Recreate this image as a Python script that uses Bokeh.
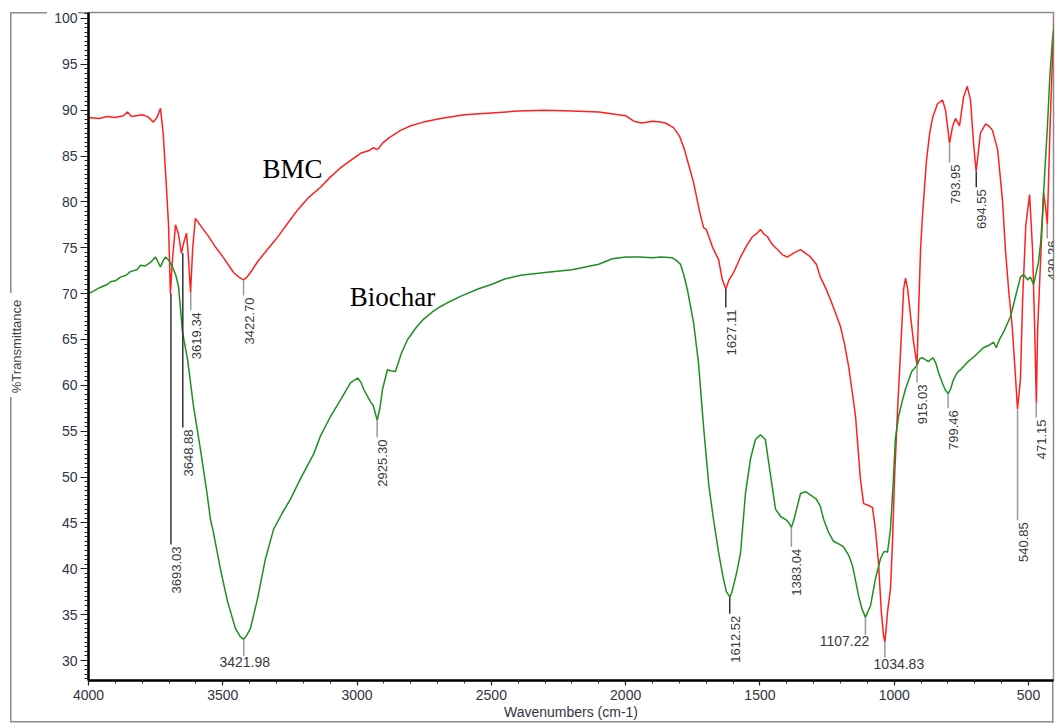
from math import pi
from bokeh.plotting import figure
from bokeh.models import Range1d, FixedTicker, ColumnDataSource
from bokeh.core.properties import value
from bokeh.embed import file_html
from bokeh.resources import INLINE

# ---------------- data ----------------
bmc_wn = [4000, 3960, 3930, 3900, 3870, 3855, 3840, 3800, 3780, 3758, 3745, 3732, 3722, 3712, 3702, 3695,
          3688, 3676, 3665, 3654, 3646, 3635, 3628, 3620, 3612, 3602, 3580, 3557, 3530, 3497, 3460, 3440,
          3423, 3410, 3397, 3370, 3334, 3300, 3285, 3250, 3222, 3180, 3136, 3100, 3062, 3020, 2987, 2955,
          2940, 2924, 2905, 2880, 2838, 2800, 2753, 2689, 2600, 2500, 2400, 2300, 2200, 2100, 2000, 1970,
          1940, 1900, 1870, 1852, 1822, 1800, 1781, 1765, 1747, 1725, 1710, 1700, 1690, 1677, 1654, 1640,
          1627, 1615, 1598, 1572, 1550, 1528, 1510, 1498, 1485, 1472, 1455, 1435, 1415, 1397, 1370, 1349,
          1330, 1312, 1290, 1275, 1255, 1237, 1220, 1200, 1185, 1170, 1155, 1144, 1126, 1114, 1095, 1081,
          1070, 1059, 1048, 1040, 1035, 1030, 1025, 1014, 1007, 999, 988, 975, 965, 958, 950, 939, 928,
          915, 910, 902, 895, 880, 868, 857, 839, 820, 809, 794, 783, 772, 757, 742, 728, 716, 705, 695,
          679, 660, 645, 634, 615, 597, 586, 574, 560, 548, 541, 530, 522, 510, 496, 485, 477, 471, 466,
          455, 444, 437, 430, 420, 410, 403]
bmc_t = [89.2, 89.1, 89.3, 89.2, 89.4, 89.8, 89.3, 89.5, 89.3, 88.7, 89.2, 90.2, 87.5, 82.7, 77.5, 70.0,
         73.5, 77.5, 76.5, 74.4, 75.5, 76.6, 74.0, 70.1, 75.0, 78.2, 77.3, 76.4, 75.2, 73.9, 72.3, 71.8,
         71.5, 71.8, 72.3, 73.5, 74.8, 76.0, 76.6, 78.0, 79.1, 80.5, 81.6, 82.7, 83.7, 84.6, 85.3, 85.6,
         85.9, 85.7, 86.4, 87.0, 87.8, 88.3, 88.7, 89.1, 89.5, 89.7, 89.9, 90.0, 89.9, 89.8, 89.4, 88.8,
         88.6, 88.8, 88.7, 88.6, 88.1, 87.2, 85.7, 84.0, 82.1, 79.0, 77.2, 77.0, 76.2, 75.1, 73.7, 71.5,
         70.5, 71.5, 72.3, 74.0, 75.2, 76.2, 76.6, 77.0, 76.5, 76.2, 75.4, 74.8, 74.2, 74.0, 74.5, 74.8,
         74.4, 74.0, 73.2, 71.8, 70.6, 69.3, 68.0, 66.4, 64.5, 62.1, 59.0, 56.6, 49.8, 47.1, 46.9, 46.7,
         44.3, 40.8, 35.3, 32.8, 32.0, 33.5, 35.3, 37.8, 42.5, 49.8, 57.1, 64.5, 70.5, 71.7, 70.5, 67.5, 64.7,
         62.2, 67.5, 74.8, 78.4, 84.5, 87.5, 89.2, 90.7, 91.1, 90.0, 86.4, 88.2, 89.1, 88.3, 91.4, 92.6, 91.1,
         86.5, 83.3, 87.5, 88.5, 88.2, 87.8, 85.7, 80.2, 74.8, 70.4, 66.1, 60.7, 57.4, 60.7, 69.3, 77.5, 80.8,
         74.8, 66.1, 58.1, 66.1, 73.7, 81.0, 79.5, 77.6, 88.0, 96.5, 100.5]

bio_wn = [4000, 3980, 3955, 3930, 3918, 3900, 3881, 3860, 3844, 3820, 3806, 3790, 3769, 3751, 3742, 3732,
          3722, 3713, 3700, 3687, 3675, 3665, 3658, 3650, 3631, 3609, 3583, 3560, 3546, 3535, 3509, 3482,
          3453, 3435, 3422, 3410, 3397, 3371, 3341, 3311, 3280, 3248, 3211, 3162, 3136, 3099, 3060, 3024,
          2998, 2985, 2976, 2950, 2940, 2925, 2915, 2905, 2887, 2875, 2857, 2835, 2812, 2780, 2753, 2720,
          2689, 2650, 2615, 2550, 2500, 2450, 2391, 2300, 2200, 2100, 2050, 2000, 1950, 1900, 1870, 1826,
          1810, 1796, 1783, 1770, 1747, 1729, 1710, 1690, 1673, 1654, 1636, 1625, 1612, 1605, 1598, 1585,
          1572, 1554, 1535, 1517, 1498, 1480, 1461, 1442, 1423, 1401, 1390, 1383, 1375, 1368, 1349, 1330,
          1310, 1290, 1275, 1263, 1245, 1226, 1200, 1189, 1170, 1155, 1133, 1120, 1107, 1100, 1088, 1070,
          1051, 1040, 1033, 1025, 1014, 1003, 996, 984, 970, 958, 935, 915, 905, 895, 885, 872, 865, 855,
          845, 835, 820, 810, 799, 790, 780, 765, 750, 728, 700, 668, 645, 630, 620, 610, 593, 567, 550,
          530, 518, 504, 493, 481, 463, 455, 448, 440, 430, 420, 410, 403]
bio_t = [70.0, 70.3, 70.7, 71.0, 71.3, 71.4, 71.8, 72.0, 72.4, 72.6, 73.1, 73.0, 73.4, 74.0, 73.5, 72.9,
         73.6, 74.0, 73.6, 72.9, 72.0, 70.8, 68.5, 65.8, 62.8, 57.7, 53.0, 48.5, 45.4, 44.0, 40.0, 36.4,
         33.5, 32.6, 32.3, 32.8, 33.5, 36.7, 41.1, 44.3, 46.0, 47.6, 49.8, 52.5, 54.5, 56.6, 58.5, 60.3,
         60.8, 60.3, 59.6, 58.2, 57.8, 56.2, 57.5, 59.6, 61.7, 61.6, 61.5, 63.5, 65.0, 66.3, 67.2, 68.0,
         68.6, 69.2, 69.7, 70.5, 71.0, 71.6, 72.0, 72.3, 72.6, 73.2, 73.8, 74.0, 74.0, 73.9, 74.0, 73.9,
         73.6, 73.2, 72.0, 70.4, 66.8, 62.5, 55.5, 49.0, 45.4, 41.8, 38.9, 37.5, 36.9, 37.4, 38.2, 39.8,
         41.8, 48.2, 52.0, 54.1, 54.6, 54.1, 50.3, 46.5, 45.7, 45.3, 44.9, 44.5, 45.2, 46.0, 48.2, 48.4,
         48.0, 47.6, 46.8, 45.4, 44.0, 43.0, 42.6, 42.4, 41.5, 40.3, 37.1, 35.6, 34.7, 35.2, 36.0, 38.9,
         41.1, 41.8, 41.9, 41.8, 44.3, 49.8, 54.1, 56.6, 58.3, 59.6, 61.5, 62.2, 62.9, 63.0, 62.8, 62.6, 62.8, 63.0,
         62.4, 61.4, 60.2, 59.5, 59.1, 59.6, 60.6, 61.4, 61.8, 62.5, 63.2, 64.1, 64.4, 64.7, 64.1, 64.9, 65.8, 67.5, 69.5,
         71.8, 72.1, 71.5, 71.8, 71.0, 73.4, 75.5, 78.5, 83.0, 88.0, 94.0, 98.0, 99.5]

peak_text = ["3693.03", "3648.88", "3619.34", "3422.70", "3421.98", "2925.30", "1627.11", "1612.52",
             "1383.04", "1107.22", "1034.83", "915.03", "799.46", "793.95", "694.55", "540.85", "471.15",
             "430.26"]
peak_wn = [3693.03, 3648.88, 3619.34, 3422.70, 3421.98, 2925.30, 1627.11, 1612.52,
           1383.04, 1107.22, 1034.83, 915.03, 799.46, 793.95, 694.55, 540.85, 471.15, 430.26]
peak_top = [70.0, 74.4, 70.1, 71.5, 32.3, 56.2, 70.5, 36.9, 44.5, 34.7, 32.0, 62.2, 59.1, 86.4, 83.3,
            57.4, 58.1, 77.6]
peak_bottom = [42.65, 55.4, 68.2, 69.8, 30.5, 54.3, 68.5, 35.1, 42.4, 32.8, 30.3, 60.3, 57.5, 84.3, 81.6,
               45.3, 56.5, 76.0]
peak_vertical = [True, True, True, True, False, True, True, True, True, False, False, True, True, True,
                 True, True, True, True]
peak_dark = [True, True, False, False, False, False, True, True, False, False, False, False, False, False,
             True, False, False, False]

x_major = [4000, 3500, 3000, 2500, 2000, 1500, 1000, 500]
y_major = [30, 35, 40, 45, 50, 55, 60, 65, 70, 75, 80, 85, 90, 95, 100]

# ---------------- layout ----------------
W, H = 1055, 724
FL, FR, FT, FB = 88, 1053, 12, 680          # frame edges in canvas pixels
XMAX, XMIN = 4000.0, 407.0
YMIN, YMAX = 27.82, 100.65

# outer grey frame of the page, drawn as CSS background segments (x, y, w, h in px)
frame_segments = [(10, 12, 37, 1.5), (78, 12, 975, 1.5), (FR - 1, 12, 1.5, 711), (10, 721, 1043, 1.5),
                  (10, 12, 1.5, 281), (10, 397, 1.5, 325)]
grad = "linear-gradient(#8c8c8c, #8c8c8c)"
frame_css = {
    "background-color": "white",
    "background-image": ", ".join([grad] * len(frame_segments)),
    "background-size": ", ".join(f"{w}px {h}px" for (_, _, w, h) in frame_segments),
    "background-position": ", ".join(f"{x}px {y}px" for (x, y, _, _) in frame_segments),
    "background-repeat": "no-repeat",
}

p = figure(width=W, height=H, output_backend="svg", toolbar_location=None,
           x_range=Range1d(XMAX, XMIN), y_range=Range1d(YMIN, YMAX),
           min_border_left=FL, min_border_right=W - FR, min_border_top=FT, min_border_bottom=H - FB,
           styles=frame_css)
p.background_fill_color = "white"
p.border_fill_color = "white"
p.border_fill_alpha = 0.0
p.outline_line_color = "#8c8c8c"
p.outline_line_width = 1.5
p.xgrid.visible = False
p.ygrid.visible = False

p.xaxis.ticker = FixedTicker(ticks=x_major, minor_ticks=list(range(400, 4001, 100)))
p.yaxis.ticker = FixedTicker(ticks=y_major, minor_ticks=[v / 2 for v in range(56, 202)])

for ax in (p.xaxis[0], p.yaxis[0]):
    ax.axis_line_color = "black"
    ax.axis_line_width = 2.5
    ax.major_tick_line_color = "#222222"
    ax.minor_tick_line_color = "#222222"
    ax.major_tick_line_width = 1.2
    ax.minor_tick_line_width = 1
    ax.major_tick_in = 0
    ax.minor_tick_in = 0
    ax.major_label_text_font = "Liberation Sans"
    ax.major_label_text_font_size = "14px"
    ax.major_label_text_color = "#333344"
    ax.axis_label_text_font = "Liberation Sans"
    ax.axis_label_text_font_style = "normal"

p.yaxis.major_tick_out = 8
p.yaxis.minor_tick_out = 4
p.yaxis.major_label_standoff = 3
p.yaxis.axis_label = "%Transmittance"
p.yaxis.axis_label_text_font_size = "13px"
p.yaxis.axis_label_text_color = "#444444"
p.yaxis.axis_label_standoff = 27

p.xaxis.major_tick_out = 5
p.xaxis.minor_tick_out = 3
p.xaxis.major_label_standoff = 4
p.xaxis.axis_label = "Wavenumbers (cm-1)"
p.xaxis.axis_label_text_font_size = "14px"
p.xaxis.axis_label_text_color = "#333344"
p.xaxis.axis_label_standoff = 1

# spectra
p.line(bmc_wn, bmc_t, line_color="#ff2020", line_width=1.5)
p.line(bio_wn, bio_t, line_color="#1f8f1f", line_width=1.5)

# peak markers
seg = ColumnDataSource(dict(x=peak_wn, y0=peak_top, y1=peak_bottom,
                            c=["#333333" if d else "#9a9a9a" for d in peak_dark]))
p.segment(x0="x", y0="y0", x1="x", y1="y1", line_color="c", line_width=1.5, source=seg)

vi = [i for i, v in enumerate(peak_vertical) if v]
hi = [i for i, v in enumerate(peak_vertical) if not v]
gap = 0.22
vsrc = ColumnDataSource(dict(x=[peak_wn[i] for i in vi], y=[peak_bottom[i] - gap for i in vi],
                             t=[peak_text[i] for i in vi]))
p.text(x="x", y="y", text="t", source=vsrc, angle=pi / 2, text_align="right", text_baseline="top",
       x_offset=1, text_font=value("Liberation Sans"), text_font_size="13px", text_color="#3a3a3a")

h_off = {"3421.98": 1, "1107.22": -21, "1034.83": 14}
hsrc = ColumnDataSource(dict(x=[peak_wn[i] for i in hi], y=[peak_bottom[i] - 0.1 for i in hi],
                             t=[peak_text[i] for i in hi], xo=[h_off[peak_text[i]] for i in hi]))
p.text(x="x", y="y", text="t", source=hsrc, text_align="center", text_baseline="top", x_offset="xo",
       text_font=value("Liberation Sans"), text_font_size="14px", text_color="#3a3a3a")

# series names
names = ["BMC", "Biochar"]
name_x = [3240, 2868]
name_y = [83.6, 69.6]
p.text(x=name_x, y=name_y, text=names, text_align="center", text_baseline="middle",
       text_font=value("Liberation Serif"), text_font_size="27px", text_color="black")

open("out.html", "w").write(file_html(p, INLINE))
